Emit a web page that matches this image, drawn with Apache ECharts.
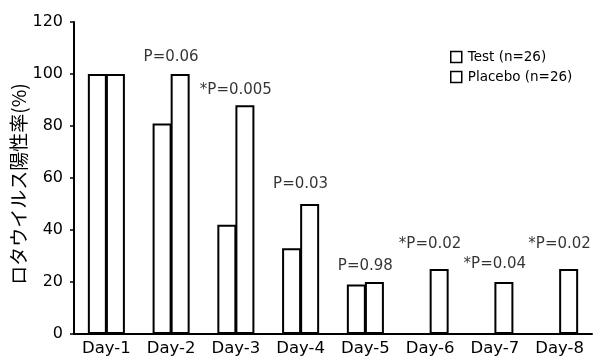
<!DOCTYPE html>
<html>
<head>
<meta charset="utf-8">
<script src="https://cdn.jsdelivr.net/npm/echarts@6/dist/echarts.min.js"></script>
<style>html,body{margin:0;padding:0;background:#fff}#c{width:596px;height:357px}</style>
</head>
<body>
<div id="c"></div>
<script>
const categories = ['Day-1','Day-2','Day-3','Day-4','Day-5','Day-6','Day-7','Day-8'];
const testValues = [100, 81, 42, 33, 19, 0, 0, 0];
const placeboValues = [100, 100, 88, 50, 20, 25, 20, 25];
const pLabels = ['', 'P=0.06', '*P=0.005', 'P=0.03', 'P=0.98', '*P=0.02', '*P=0.04', '*P=0.02'];
const pLabelHeights = [null, 106.5, 93.8, 57.7, 26.2, 34.6, 26.7, 34.6];
const yTicks = [0, 20, 40, 60, 80, 100, 120];

const latin = '"DejaVu Sans", sans-serif';
const chart = echarts.init(document.getElementById('c'), null, {renderer: 'canvas'});
const barStyle = {color: '#fff', borderColor: '#000', borderWidth: 2};
chart.setOption({
  animation: false,
  backgroundColor: '#fff',
  grid: {left: 74, right: 4, top: 22, bottom: 23, containLabel: false, outerBoundsMode: 'none'},
  legend: {
    orient: 'vertical', left: 445, top: 45,
    itemWidth: 11, itemHeight: 11, itemGap: 6,
    icon: 'rect',
    itemStyle: {color: '#fff', borderColor: '#000', borderWidth: 1.5},
    textStyle: {fontFamily: latin, fontSize: 13.5, color: '#000', lineHeight: 14, padding: [0,0,0,1]},
    data: ['Test (n=26)', 'Placebo (n=26)']
  },
  xAxis: {
    type: 'category', data: categories,
    axisLine: {lineStyle: {color: '#000', width: 2}},
    axisTick: {inside: true, length: 5, lineStyle: {color: '#000', width: 1.5}},
    axisLabel: {interval: 0, fontFamily: latin, fontSize: 16.5, color: '#000', margin: 6}
  },
  yAxis: {
    type: 'value', min: yTicks[0], max: yTicks[yTicks.length-1], interval: 20,
    name: 'ロタウイルス陽性率(%)', nameLocation: 'middle', nameGap: 46, nameMoveOverlap: false,
    nameTextStyle: {fontFamily: '"Noto Sans CJK JP", sans-serif', fontSize: 19, color: '#000', padding: [0,0,0,-12]},
    axisLine: {show: true, lineStyle: {color: '#000', width: 2}},
    axisTick: {show: true, length: 4, lineStyle: {color: '#000', width: 1.5}},
    splitLine: {show: false},
    axisLabel: {fontFamily: latin, fontSize: 16, color: '#000', margin: 11}
  },
  series: [
    {name: 'Test (n=26)', type: 'bar', data: testValues, barWidth: 19, barGap: '-5%', itemStyle: barStyle},
    {name: 'Placebo (n=26)', type: 'bar', data: placeboValues, barWidth: 19, barGap: '-5%', itemStyle: barStyle},
    {
      type: 'scatter', symbolSize: 0, silent: true,
      data: categories.map((c, i) => pLabelHeights[i] == null ? null : {value: [c, pLabelHeights[i]], text: pLabels[i]}).filter(d => d),
      label: {
        show: true, position: 'inside', color: '#000', fontFamily: latin, fontSize: 15,
        formatter: p => p.data.text
      }
    }
  ]
});
</script>
</body>
</html>
